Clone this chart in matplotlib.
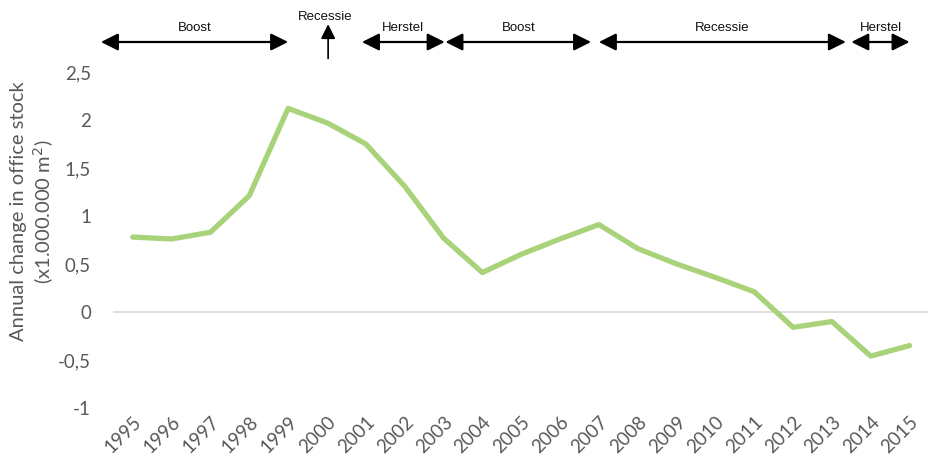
import matplotlib
matplotlib.use("Agg")
import matplotlib.pyplot as plt
import numpy as np

years = [str(y) for y in range(1995, 2016)]
values = [0.78, 0.76, 0.83, 1.21, 2.12, 1.97, 1.75, 1.31, 0.77, 0.41, 0.60,
          0.76, 0.91, 0.66, 0.50, 0.36, 0.21, -0.16, -0.10, -0.46, -0.35]
ytick_vals = [-1, -0.5, 0, 0.5, 1, 1.5, 2, 2.5]
ytick_labels = ["-1", "-0,5", "0", "0,5", "1", "1,5", "2", "2,5"]

# phase annotations: (label, start index, end index) in year-index units
phases = [("Boost", -0.82, 4.0), ("Herstel", 5.9, 8.03), ("Boost", 8.05, 11.8),
          ("Recessie", 12.0, 18.36), ("Herstel", 18.5, 20.0)]
point_phase = ("Recessie", 5.03)

plt.rcParams["font.family"] = ["Lato", "DejaVu Sans"]

fig = plt.figure(figsize=(9.29, 4.70), dpi=100)
ax = fig.add_axes([0.122, 0.132, 0.878, 0.715])

x = np.arange(len(years))
ax.plot(x, values, color="#A9D37A", lw=3.8, solid_capstyle="round", solid_joinstyle="round", zorder=3)
ax.axhline(0, color="#D9D9D9", lw=1.2, zorder=1)

ax.set_xlim(-0.5, 20.5)
ax.set_ylim(-1, 2.5)
ax.set_yticks(ytick_vals)
ax.set_yticklabels(ytick_labels)
ax.set_xticks(x)
ax.set_xticklabels(years, rotation=45, ha="right", rotation_mode="anchor")
for s in ax.spines.values():
    s.set_visible(False)
ax.tick_params(axis="both", length=0, colors="#595959", labelsize=13.5)
ax.tick_params(axis="y", pad=16)
ax.tick_params(axis="x", pad=4)

ax.set_ylabel("Annual change in office stock\n(x1.000.000 m$^2$)", fontsize=14.5, color="#595959",
              linespacing=1.25)
ax.yaxis.set_label_coords(-0.07, 0.585)

tr = ax.get_xaxis_transform()
arrow_y = 1.089
text_y = 1.131
for label, x0, x1 in phases:
    ax.annotate("", xy=(x0, arrow_y), xytext=(x1, arrow_y), xycoords=tr, textcoords=tr,
                arrowprops=dict(arrowstyle="<|-|>", color="black", lw=1.6, mutation_scale=26,
                                shrinkA=0, shrinkB=0), annotation_clip=False)
    ax.text((x0 + x1) / 2, text_y, label, transform=tr, ha="center", va="center", fontsize=9.5,
            family="Liberation Sans", color="#111111")

lab, xp = point_phase
ax.annotate("", xy=(xp, 1.142), xytext=(xp, 1.04), xycoords=tr, textcoords=tr,
            arrowprops=dict(arrowstyle="-|>", color="black", lw=1.2, mutation_scale=22,
                            shrinkA=0, shrinkB=0), annotation_clip=False)
ax.text(xp - 0.08, 1.163, lab, transform=tr, ha="center", va="center", fontsize=9.5,
        family="Liberation Sans", color="#111111")

fig.savefig("out.png", dpi=100)
